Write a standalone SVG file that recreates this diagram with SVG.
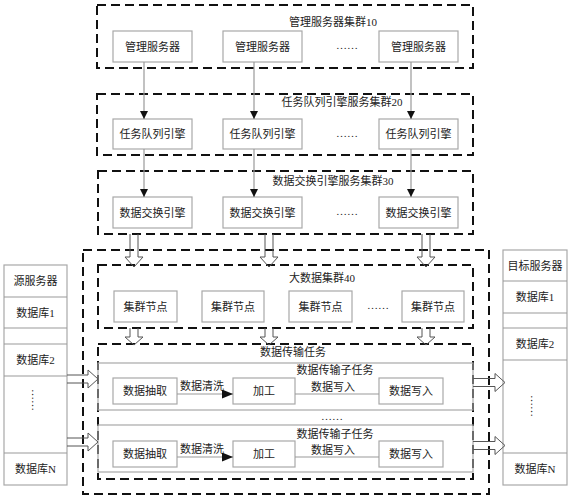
<svg xmlns="http://www.w3.org/2000/svg" width="572" height="500" viewBox="0 0 572 500">
<style>
.dash{fill:none;stroke:#111;stroke-width:2;stroke-dasharray:9 5}
.box{fill:#fff;stroke:#a8a8a8;stroke-width:1.2}
.sub{fill:none;stroke:#a8a8a8;stroke-width:1.2}
.ln{fill:none;stroke:#999;stroke-width:1.2}
.hol{fill:none;stroke:#555;stroke-width:1}
text{font-family:"Liberation Serif","Noto Sans CJK SC",serif;font-size:11px;fill:#222;text-anchor:middle;dominant-baseline:central}
</style>
<defs>
<marker id="ah" viewBox="0 0 10 10" refX="10" refY="5" markerWidth="8" markerHeight="8" markerUnits="userSpaceOnUse" orient="auto"><path d="M0,0L10,5L0,10z" fill="#111"/></marker>
<marker id="ah2" viewBox="0 0 10 10" refX="10" refY="5" markerWidth="11" markerHeight="9" markerUnits="userSpaceOnUse" orient="auto" preserveAspectRatio="none"><path d="M0,0L10,5L0,10z" fill="#111"/></marker>
</defs>

<g id="cluster10">
<rect class="dash" x="97" y="5" width="376" height="63"/>
<text x="333" y="22">管理服务器集群10</text>
<rect class="box" x="113" y="31" width="79" height="31"/><text x="152.5" y="46.5">管理服务器</text>
<rect class="box" x="223" y="31" width="79" height="31"/><text x="262.5" y="46.5">管理服务器</text>
<text x="347" y="45">……</text>
<rect class="box" x="379" y="31" width="79" height="31"/><text x="418.5" y="46.5">管理服务器</text>
</g>

<g id="cluster20">
<rect class="dash" x="97" y="94" width="376" height="61"/>
<text x="342" y="102">任务队列引擎服务集群20</text>
<rect class="box" x="113" y="119" width="79" height="30"/><text x="152.5" y="134">任务队列引擎</text>
<rect class="box" x="223" y="119" width="79" height="30"/><text x="262.5" y="134">任务队列引擎</text>
<text x="347" y="133">……</text>
<rect class="box" x="379" y="119" width="79" height="30"/><text x="418.5" y="134">任务队列引擎</text>
</g>

<g id="cluster30">
<rect class="dash" x="98" y="171" width="375" height="63"/>
<text x="333" y="181">数据交换引擎服务集群30</text>
<rect class="box" x="113" y="197" width="79" height="31"/><text x="152.5" y="212.5">数据交换引擎</text>
<rect class="box" x="223" y="197" width="79" height="31"/><text x="262.5" y="212.5">数据交换引擎</text>
<text x="347" y="211">……</text>
<rect class="box" x="379" y="197" width="79" height="31"/><text x="418.5" y="212.5">数据交换引擎</text>
</g>

<g id="bigdata-outer">
<rect class="dash" x="83" y="250" width="406" height="244"/>
</g>

<g id="cluster40">
<rect class="dash" x="98" y="265" width="375" height="63"/>
<text x="322" y="278">大数据集群40</text>
<rect class="box" x="114" y="291" width="63" height="31"/><text x="145.5" y="306.5">集群节点</text>
<rect class="box" x="202" y="291" width="62" height="31"/><text x="233" y="306.5">集群节点</text>
<rect class="box" x="289" y="291" width="63" height="31"/><text x="320.5" y="306.5">集群节点</text>
<text x="378" y="305">……</text>
<rect class="box" x="402" y="291" width="62" height="31"/><text x="433" y="306.5">集群节点</text>
</g>

<g id="transfer-task">
<rect class="dash" x="98" y="344" width="375" height="135"/>
<text x="293" y="352">数据传输任务</text>
</g>

<g id="subtask1">
<rect class="sub" x="98" y="363" width="375" height="47"/>
<text x="335" y="370">数据传输子任务</text>
<rect class="box" x="113" y="378" width="64" height="26"/><text x="145" y="391">数据抽取</text>
<rect class="box" x="233" y="378" width="62" height="26"/><text x="264" y="391">加工</text>
<rect class="box" x="379" y="378" width="64" height="26"/><text x="411" y="391">数据写入</text>
<text x="202" y="386">数据清洗</text>
<text x="333" y="387">数据写入</text>
</g>

<text x="332" y="416">……</text>

<g id="subtask2">
<rect class="sub" x="98" y="425" width="375" height="47"/>
<text x="335" y="434">数据传输子任务</text>
<rect class="box" x="113" y="441" width="64" height="26"/><text x="145" y="454">数据抽取</text>
<rect class="box" x="233" y="441" width="62" height="26"/><text x="264" y="454">加工</text>
<rect class="box" x="379" y="441" width="64" height="26"/><text x="411" y="454">数据写入</text>
<text x="202" y="449">数据清洗</text>
<text x="333" y="450">数据写入</text>
</g>

<g id="source-server">
<rect class="box" x="4" y="265" width="63" height="220"/>
<line class="ln" x1="4" y1="297" x2="67" y2="297"/>
<line class="ln" x1="4" y1="328" x2="67" y2="328"/>
<line class="ln" x1="4" y1="344" x2="67" y2="344"/>
<line class="ln" x1="4" y1="376" x2="67" y2="376"/>
<line class="ln" x1="4" y1="453" x2="67" y2="453"/>
<text x="35.5" y="281">源服务器</text>
<text x="35.5" y="312.5">数据库1</text>
<text x="35.5" y="360">数据库2</text>
<text x="35.5" y="400" transform="rotate(90 35.5 400)">……</text>
<text x="35.5" y="469">数据库N</text>
</g>

<g id="target-server">
<rect class="box" x="503" y="250" width="64" height="235"/>
<line class="ln" x1="503" y1="281" x2="567" y2="281"/>
<line class="ln" x1="503" y1="313" x2="567" y2="313"/>
<line class="ln" x1="503" y1="328" x2="567" y2="328"/>
<line class="ln" x1="503" y1="360" x2="567" y2="360"/>
<line class="ln" x1="503" y1="453" x2="567" y2="453"/>
<text x="535" y="265.5">目标服务器</text>
<text x="535" y="297">数据库1</text>
<text x="535" y="344">数据库2</text>
<text x="535" y="406" transform="rotate(90 535 406)">……</text>
<text x="535" y="469">数据库N</text>
</g>

<g id="connectors">
<line class="ln" x1="144" y1="62" x2="144" y2="119" marker-end="url(#ah)"/>
<line class="ln" x1="254" y1="62" x2="254" y2="119" marker-end="url(#ah)"/>
<line class="ln" x1="411" y1="62" x2="411" y2="119" marker-end="url(#ah)"/>
<line class="ln" x1="144" y1="149" x2="144" y2="197" marker-end="url(#ah)"/>
<line class="ln" x1="254" y1="149" x2="254" y2="197" marker-end="url(#ah)"/>
<line class="ln" x1="411" y1="149" x2="411" y2="197" marker-end="url(#ah)"/>
<line class="ln" x1="177" y1="394" x2="233" y2="394" marker-end="url(#ah2)"/>
<line class="ln" x1="295" y1="394" x2="379" y2="394"/>
<line class="ln" x1="177" y1="457" x2="233" y2="457" marker-end="url(#ah2)"/>
<line class="ln" x1="295" y1="457" x2="379" y2="457"/>
<path class="hol" d="M130,234V257H125L134,267L143,257H138V234"/>
<path class="hol" d="M265,234V257H260L269,267L278,257H273V234"/>
<path class="hol" d="M422,234V257H417L426,267L435,257H430V234"/>
<path class="hol" d="M130,328V337H125L134,345L143,337H138V328"/>
<path class="hol" d="M265,328V337H260L269,345L278,337H273V328"/>
<path class="hol" d="M422,328V337H417L426,345L435,337H430V328"/>
<path class="hol" d="M67,375H88V370L98,379L88,388V383H67"/>
<path class="hol" d="M67,438H88V433L98,442L88,451V446H67"/>
<path class="hol" d="M473,378.5H495V373.5L505,382.5L495,391.5V386.5H473"/>
<path class="hol" d="M473,441.5H495V436.5L505,445.5L495,454.5V449.5H473"/>
</g>
</svg>
